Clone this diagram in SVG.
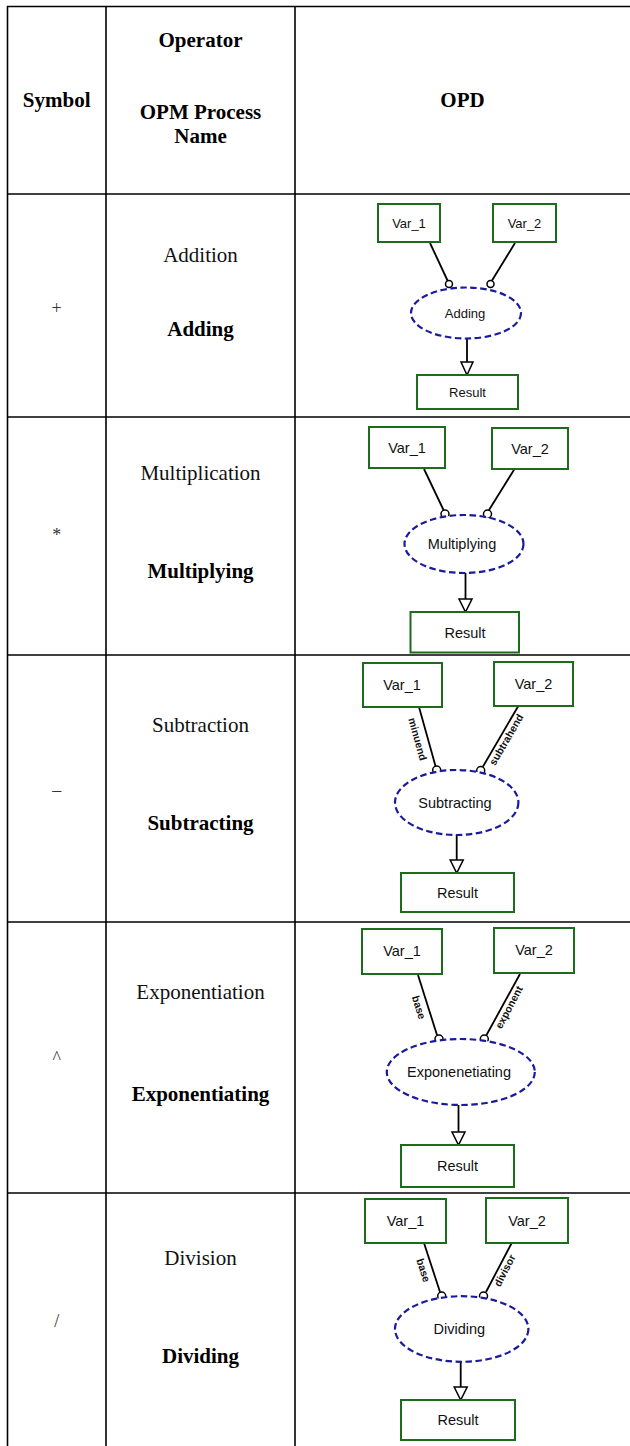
<svg xmlns="http://www.w3.org/2000/svg" width="630" height="1446" viewBox="0 0 630 1446">
<style>
.grid{stroke:#000;stroke-width:1.6;fill:none}
.hd{font-family:"Liberation Serif","Times New Roman",serif;font-weight:bold;font-size:21px;fill:#000;text-anchor:middle}
.op{font-family:"Liberation Serif","Times New Roman",serif;font-size:21px;fill:#111;text-anchor:middle}
.pn{font-family:"Liberation Serif","Times New Roman",serif;font-weight:bold;font-size:21px;fill:#000;text-anchor:middle}
.sym{font-family:"Liberation Serif","Times New Roman",serif;font-size:18px;fill:#333;text-anchor:middle}
.obj rect{fill:#fff;stroke:#1d6b1d;stroke-width:2}
.proc ellipse{fill:#fff;stroke:#1a1a9e;stroke-width:2.2;stroke-dasharray:6.5 3.5}
.lbl{font-family:"Liberation Sans",Arial,sans-serif;font-size:14.5px;fill:#111;text-anchor:middle}
.sm{font-size:13px}
.link{stroke:#000;stroke-width:1.8;fill:none}
.agent{fill:#fff;stroke:#000;stroke-width:1.5}
.head{fill:#fff;stroke:#000;stroke-width:1.5}
.tag{font-family:"Liberation Sans",Arial,sans-serif;font-weight:bold;font-size:10.5px;fill:#111;text-anchor:middle}
</style>

<!-- table rules -->
<g id="table" class="grid">
  <line x1="7" y1="6.5" x2="630" y2="6.5"/>
  <line x1="7.5" y1="6" x2="7.5" y2="1446"/>
  <line x1="106" y1="6" x2="106" y2="1446"/>
  <line x1="295" y1="6" x2="295" y2="1446"/>
  <line x1="7" y1="194" x2="630" y2="194"/>
  <line x1="7" y1="417" x2="630" y2="417"/>
  <line x1="7" y1="655" x2="630" y2="655"/>
  <line x1="7" y1="922" x2="630" y2="922"/>
  <line x1="7" y1="1193" x2="630" y2="1193"/>
</g>

<!-- header row -->
<g id="header">
  <text class="hd" x="56.7" y="107">Symbol</text>
  <text class="hd" x="200.5" y="47">Operator</text>
  <text class="hd" x="200.5" y="119">OPM Process</text>
  <text class="hd" x="200.5" y="143">Name</text>
  <text class="hd" x="462.5" y="107">OPD</text>
</g>

<!-- operator / process name cells -->
<g id="row-add-text">
  <text class="sym" x="56.7" y="314">+</text>
  <text class="op" x="200.5" y="262">Addition</text>
  <text class="pn" x="200.5" y="336">Adding</text>
</g>
<g id="row-mul-text">
  <text class="sym" x="56.7" y="541">*</text>
  <text class="op" x="200.5" y="480">Multiplication</text>
  <text class="pn" x="200.5" y="578">Multiplying</text>
</g>
<g id="row-sub-text">
  <text class="sym" x="56.7" y="796">–</text>
  <text class="op" x="200.5" y="732">Subtraction</text>
  <text class="pn" x="200.5" y="830">Subtracting</text>
</g>
<g id="row-exp-text">
  <text class="sym" x="56.7" y="1064">^</text>
  <text class="op" x="200.5" y="999">Exponentiation</text>
  <text class="pn" x="200.5" y="1101">Exponentiating</text>
</g>
<g id="row-div-text">
  <text class="sym" x="56.7" y="1327">/</text>
  <text class="op" x="200.5" y="1265">Division</text>
  <text class="pn" x="200.5" y="1363">Dividing</text>
</g>

<!-- links: instrument links (small circle) and result links (hollow head) -->
<g id="connectors">
  <!-- Adding -->
  <line class="link" x1="430" y1="243" x2="447.5" y2="280.5"/>
  <circle class="agent" cx="449" cy="284" r="3.5"/>
  <line class="link" x1="515" y1="243" x2="492" y2="280.5"/>
  <circle class="agent" cx="490.5" cy="284" r="3.5"/>
  <line class="link" x1="467" y1="338.5" x2="467" y2="362"/>
  <polygon class="head" points="461,362 473,362 467,375"/>

  <!-- Multiplying -->
  <line class="link" x1="424" y1="469" x2="443.5" y2="510"/>
  <circle class="agent" cx="445" cy="514" r="4"/>
  <line class="link" x1="514.5" y1="469" x2="489" y2="510"/>
  <circle class="agent" cx="487.5" cy="514" r="4"/>
  <line class="link" x1="465.5" y1="573" x2="465.5" y2="599"/>
  <polygon class="head" points="459,599 472,599 465.5,612"/>

  <!-- Subtracting -->
  <line class="link" x1="419" y1="707" x2="435.5" y2="766"/>
  <circle class="agent" cx="436.7" cy="770" r="4"/>
  <line class="link" x1="518.3" y1="706" x2="483" y2="766.5"/>
  <circle class="agent" cx="480.7" cy="770.5" r="4"/>
  <text class="tag" transform="translate(417.6,739.2) rotate(74.4)" dy="0.35em">minuend</text>
  <text class="tag" transform="translate(506.2,739.6) rotate(-59.7)" dy="0.35em">subtrahend</text>
  <line class="link" x1="456.7" y1="835" x2="456.7" y2="860"/>
  <polygon class="head" points="450.2,860 463.2,860 456.7,873"/>

  <!-- Exponentiating -->
  <line class="link" x1="418" y1="975" x2="437" y2="1035"/>
  <circle class="agent" cx="439" cy="1039" r="4"/>
  <line class="link" x1="520" y1="974" x2="486.5" y2="1035"/>
  <circle class="agent" cx="484.3" cy="1039" r="4"/>
  <text class="tag" transform="translate(418.9,1007.4) rotate(72.8)" dy="0.35em">base</text>
  <text class="tag" transform="translate(508.9,1007.3) rotate(-61.8)" dy="0.35em">exponent</text>
  <line class="link" x1="458.5" y1="1105" x2="458.5" y2="1132"/>
  <polygon class="head" points="452,1132 465,1132 458.5,1145"/>

  <!-- Dividing -->
  <line class="link" x1="424" y1="1243" x2="440" y2="1292"/>
  <circle class="agent" cx="441.7" cy="1296" r="4"/>
  <line class="link" x1="511.7" y1="1243" x2="486" y2="1292"/>
  <circle class="agent" cx="483.5" cy="1296" r="4"/>
  <text class="tag" transform="translate(423.4,1270.3) rotate(71.9)" dy="0.35em">base</text>
  <text class="tag" transform="translate(504.7,1270.5) rotate(-62.3)" dy="0.35em">divisor</text>
  <line class="link" x1="460.7" y1="1361.8" x2="460.7" y2="1387"/>
  <polygon class="head" points="454.2,1387 467.2,1387 460.7,1400"/>
</g>

<!-- Adding OPD -->
<g id="add-var1" class="obj"><rect x="378" y="204" width="62" height="38"/><text class="lbl sm" x="409" y="228">Var_1</text></g>
<g id="add-var2" class="obj"><rect x="493" y="204" width="63" height="38"/><text class="lbl sm" x="524.5" y="228">Var_2</text></g>
<g id="add-proc" class="proc"><ellipse cx="466" cy="313" rx="55" ry="25.5"/><text class="lbl sm" x="465" y="317.5">Adding</text></g>
<g id="add-result" class="obj"><rect x="417" y="375" width="101" height="34"/><text class="lbl sm" x="467.5" y="396.5">Result</text></g>

<!-- Multiplying OPD -->
<g id="mul-var1" class="obj"><rect x="369" y="427" width="76" height="41"/><text class="lbl" x="407" y="452.5">Var_1</text></g>
<g id="mul-var2" class="obj"><rect x="492" y="428" width="76" height="41"/><text class="lbl" x="530" y="453.5">Var_2</text></g>
<g id="mul-proc" class="proc"><ellipse cx="464" cy="544" rx="59.5" ry="29"/><text class="lbl" x="462" y="549">Multiplying</text></g>
<g id="mul-result" class="obj"><rect x="410.5" y="612" width="108.5" height="40.5"/><text class="lbl" x="465" y="637.5">Result</text></g>

<!-- Subtracting OPD -->
<g id="sub-var1" class="obj"><rect x="363" y="663" width="79" height="44"/><text class="lbl" x="402" y="690">Var_1</text></g>
<g id="sub-var2" class="obj"><rect x="494" y="662" width="79" height="44"/><text class="lbl" x="533.5" y="689">Var_2</text></g>
<g id="sub-proc" class="proc"><ellipse cx="456.7" cy="802.5" rx="61.7" ry="32.5"/><text class="lbl" x="455" y="808">Subtracting</text></g>
<g id="sub-result" class="obj"><rect x="401" y="873" width="113" height="39"/><text class="lbl" x="457.5" y="897.5">Result</text></g>

<!-- Exponentiating OPD -->
<g id="exp-var1" class="obj"><rect x="362" y="929" width="80" height="45"/><text class="lbl" x="402" y="956">Var_1</text></g>
<g id="exp-var2" class="obj"><rect x="494" y="928" width="80" height="45"/><text class="lbl" x="534" y="955">Var_2</text></g>
<g id="exp-proc" class="proc"><ellipse cx="460.8" cy="1072" rx="74" ry="33"/><text class="lbl" x="459" y="1077">Exponenetiating</text></g>
<g id="exp-result" class="obj"><rect x="401" y="1145" width="113" height="42"/><text class="lbl" x="457.5" y="1171">Result</text></g>

<!-- Dividing OPD -->
<g id="div-var1" class="obj"><rect x="365" y="1199" width="81" height="44"/><text class="lbl" x="405.5" y="1226">Var_1</text></g>
<g id="div-var2" class="obj"><rect x="486" y="1198" width="82" height="45"/><text class="lbl" x="527" y="1225.5">Var_2</text></g>
<g id="div-proc" class="proc"><ellipse cx="461.7" cy="1329" rx="66.7" ry="32.8"/><text class="lbl" x="459.3" y="1334">Dividing</text></g>
<g id="div-result" class="obj"><rect x="401" y="1400" width="114" height="40"/><text class="lbl" x="458" y="1425">Result</text></g>
</svg>
